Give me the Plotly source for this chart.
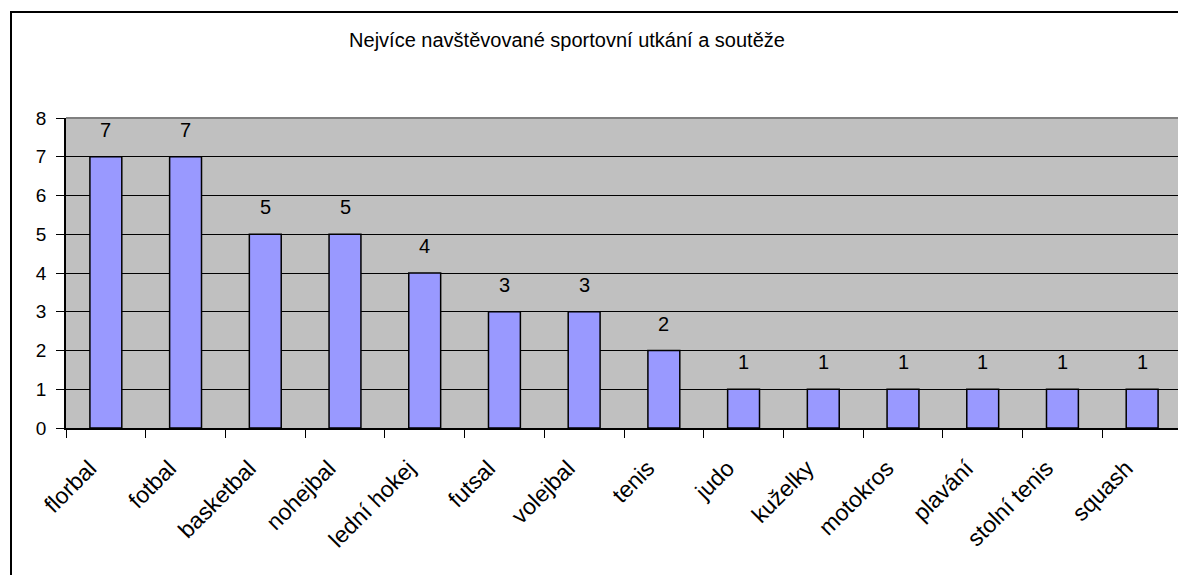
import plotly.graph_objects as go

categories = ["florbal", "fotbal", "basketbal", "nohejbal", "lední hokej", "futsal",
              "volejbal", "tenis", "judo", "kuželky", "motokros", "plavání",
              "stolní tenis", "squash"]
values = [7, 7, 5, 5, 4, 3, 3, 2, 1, 1, 1, 1, 1, 1]
y_ticks = [0, 1, 2, 3, 4, 5, 6, 7, 8]
title_text = "Nejvíce navštěvované sportovní utkání a soutěže"

FONT = "Liberation Sans, Arial, sans-serif"

# page body has 8px margin; figure placed at (8,8)
OFF = 8
W, H = 1186 - OFF, 575 - OFF
L, R, T, B = 66 - OFF, 4, 118 - OFF, 147
pw, ph = W - L - R, H - T - B

fig = go.Figure()
fig.add_trace(go.Bar(
    x=categories, y=values,
    marker=dict(color="#9999FF", line=dict(color="black", width=1.5)),
    width=0.4,
))

for c, v in zip(categories, values):
    fig.add_annotation(x=c, y=v, text=str(v), showarrow=False, yanchor="bottom",
                       yshift=14, font=dict(family=FONT, size=20, color="black"))

# outer chart border (paper coords)
fig.add_shape(type="rect", xref="paper", yref="paper",
              x0=(11 - 66) / pw, x1=(W + 20 - L) / pw,
              y0=-(B + 20) / ph, y1=1 + (118 - 12) / ph,
              line=dict(color="black", width=2), fillcolor="rgba(0,0,0,0)", layer="below")
# plot area top/right gray border
fig.add_shape(type="path", xref="paper", yref="paper",
              path="M 0 1 L 1 1 L 1 0", line=dict(color="#808080", width=2))

fig.update_layout(
    width=W, height=H,
    margin=dict(l=L, r=R, t=T, b=B),
    paper_bgcolor="white", plot_bgcolor="#C0C0C0",
    showlegend=False,
    title=dict(text=title_text, x=(567 - OFF) / W, xanchor="center", y=1 - (40 - OFF) / H,
               yanchor="middle", font=dict(family=FONT, size=20, color="black")),
    font=dict(family=FONT, size=20, color="black"),
)
fig.update_xaxes(
    showline=True, linecolor="black", linewidth=1.5,
    ticks="outside", tickson="boundaries", ticklen=8, tickcolor="black", tickwidth=1,
    tickangle=-45, showgrid=False, tickfont=dict(family=FONT, size=23, color="black"),
    ticklabelstandoff=16, ticklabelshift=-16,
)
fig.update_yaxes(
    range=[0, 8], tickvals=y_ticks, showline=True, linecolor="black", linewidth=1.5,
    ticks="outside", ticklen=8, tickcolor="black", tickwidth=1,
    showgrid=True, gridcolor="black", gridwidth=1, zeroline=False,
    ticklabelstandoff=6, tickfont=dict(family=FONT, size=19, color="black"),
)

fig.write_html("out.html")
